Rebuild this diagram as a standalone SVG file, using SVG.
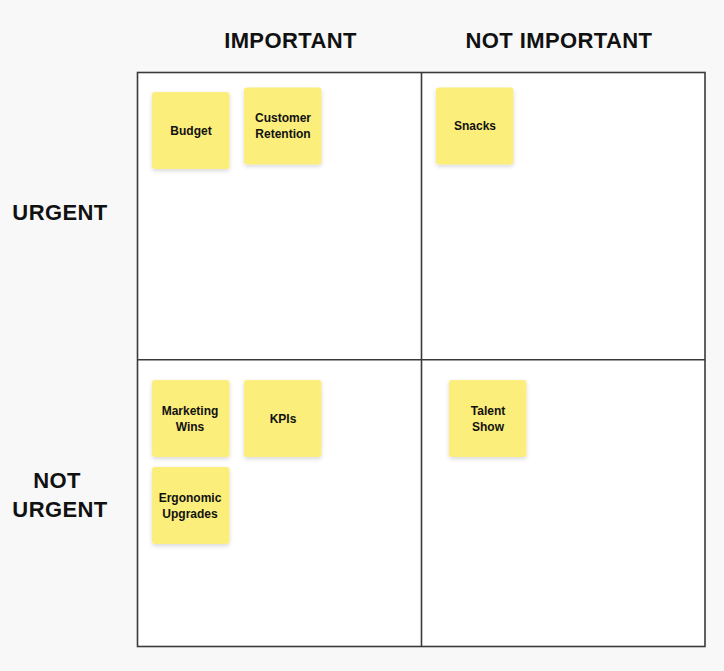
<svg xmlns="http://www.w3.org/2000/svg" width="724" height="671" viewBox="0 0 724 671">
<defs>
<filter id="sh" x="-20%" y="-20%" width="140%" height="150%">
<feDropShadow dx="0" dy="2" stdDeviation="2" flood-color="#000" flood-opacity="0.15"/>
</filter>
<style>
.hdr{font-family:"Liberation Sans",Arial,sans-serif;font-weight:bold;font-size:22px;fill:#111;text-anchor:middle;letter-spacing:0.4px}
.note rect{fill:#fcee7a;filter:url(#sh)}
.note text{font-family:"Liberation Sans",Arial,sans-serif;font-weight:bold;font-size:12px;fill:#111;text-anchor:middle}
.grid{fill:none;stroke:#3a3a3a;stroke-width:1.6}
</style>
</defs>
<rect x="0" y="0" width="724" height="671" fill="#f8f8f8"/>
<g id="matrix">
<rect x="137.5" y="72.5" width="567.5" height="574" fill="#fff"/>
<rect class="grid" x="137.5" y="72.5" width="567.5" height="574"/>
</g>
<g id="connectors">
<line class="grid" x1="421.5" y1="72.5" x2="421.5" y2="646.5"/>
<line class="grid" x1="137.5" y1="359.8" x2="705" y2="359.8"/>
</g>
<g id="labels">
<text class="hdr" x="290.5" y="48">IMPORTANT</text>
<text class="hdr" x="559" y="48">NOT IMPORTANT</text>
<text class="hdr" x="60" y="220">URGENT</text>
<text class="hdr" x="57" y="488">NOT</text>
<text class="hdr" x="60" y="517">URGENT</text>
</g>
<g id="budget" class="note"><rect x="152" y="92" width="77.5" height="77" rx="3"/><text x="191" y="135">Budget</text></g>
<g id="customer-retention" class="note"><rect x="244" y="87.5" width="77.5" height="77" rx="3"/><text x="283" y="122">Customer</text><text x="283" y="138">Retention</text></g>
<g id="snacks" class="note"><rect x="436" y="87.5" width="77.5" height="77" rx="3"/><text x="475" y="130">Snacks</text></g>
<g id="marketing-wins" class="note"><rect x="152" y="380" width="77.5" height="77" rx="3"/><text x="190" y="415">Marketing</text><text x="190" y="431">Wins</text></g>
<g id="kpis" class="note"><rect x="244" y="380" width="77.5" height="77" rx="3"/><text x="283" y="423">KPIs</text></g>
<g id="ergonomic-upgrades" class="note"><rect x="152" y="467" width="77.5" height="77" rx="3"/><text x="190" y="502">Ergonomic</text><text x="190" y="518">Upgrades</text></g>
<g id="talent-show" class="note"><rect x="449" y="380" width="77.5" height="77" rx="3"/><text x="488" y="415">Talent</text><text x="488" y="431">Show</text></g>
</svg>
